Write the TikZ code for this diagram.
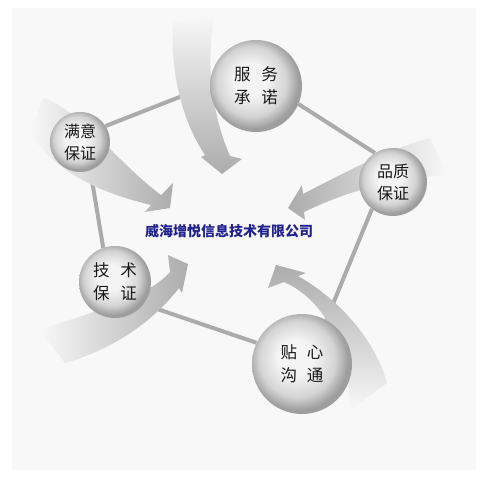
\documentclass[tikz,border=0pt]{standalone}
\usepackage{fontspec}
\newfontfamily\cjk{Noto Sans CJK SC}
\usetikzlibrary{calc}
\definecolor{NameBlue}{HTML}{22228E}
\definecolor{LinkGray}{HTML}{ABABAB}
\definecolor{BallIn}{HTML}{F4F4F4}
\definecolor{BallMid}{HTML}{D4D4D4}
\definecolor{BallOut}{HTML}{9E9E9E}
\definecolor{PaperGray}{HTML}{F8F8F8}
\pgfdeclarelayer{bg}
\pgfdeclarelayer{mid}
\pgfsetlayers{bg,mid,main}
\pgfdeclareradialshading{sphere}{\pgfpoint{-4bp}{4bp}}{color(0bp)=(BallIn); color(9bp)=(BallIn); color(19bp)=(BallMid); color(25bp)=(BallOut); color(50bp)=(BallOut)}

\begin{document}
\begin{tikzpicture}[
        x=1pt, y=-1pt,
        ball/.style={circle, shading=sphere, inner sep=0pt, align=center,
                     text=black!90, font=\cjk\fontsize{16.5}{23}\selectfont},
        small/.style={font=\cjk\fontsize{16}{22}\selectfont},
        link/.style={LinkGray, line width=4pt},
        band/.style={draw=none},
      ]
        \useasboundingbox (0,0) rectangle (482,479);
        \node[ball, minimum size=92pt]         (fuwu)   at (256,86)  {服\hspace{0.65em}务\\承\hspace{0.65em}诺};
        \node[ball, small, minimum size=60pt]  (manyi)  at (80,142)  {满意\\保证};
        \node[ball, small, minimum size=68pt]  (pinzhi) at (393,182) {品质\\保证};
        \node[ball, minimum size=72pt]         (jishu)  at (115,282) {技\hspace{0.65em}术\\保\hspace{0.65em}证};
        \node[ball, minimum size=100pt]        (tiexin) at (302,364) {贴\hspace{0.6em}心\\沟\hspace{0.6em}通};
        \node[font=\cjk\bfseries\fontsize{14}{14}\selectfont, text=NameBlue] (company) at (229,231)
             {威海增悦信息技术有限公司};
        \begin{pgfonlayer}{bg}
          \fill[PaperGray] (12,8) rectangle (476,470);
          \draw[link] (manyi.32)   -- (fuwu.179);
          \draw[link] (fuwu.-23)   -- (pinzhi.122);
          \draw[link] (pinzhi.232) -- (tiexin.61);
          \draw[link] (jishu.-38)  -- (tiexin.155);
          \draw[link] (manyi.-70)  -- (jishu.109);
        \end{pgfonlayer}
        \begin{pgfonlayer}{mid}
          % swoosh arrows into the centre
          \shade[band, top color=gray!6, bottom color=gray!65]
            (173,22) .. controls (170,80) and (185,125) .. (205,155) -- (201,157) -- (222,174)
            -- (242,159) -- (230,156) .. controls (212,115) and (205,60) .. (215,15) -- cycle;
          \shade[band, left color=gray!6, right color=gray!65]
            (30,133) .. controls (60,178) and (110,195) .. (151,205) -- (145,212) -- (170,208)
            -- (173,183) -- (161,195) .. controls (120,165) and (80,110) .. (43,98) -- cycle;
          \shade[band, left color=gray!65, right color=gray!6]
            (304,212) .. controls (340,195) and (380,180) .. (448,175) -- (430,138)
            .. controls (390,148) and (340,175) .. (303,194) -- (302,185) -- (288,208) -- (305,220) -- cycle;
          \shade[band, left color=gray!6, right color=gray!65]
            (40,330) .. controls (90,312) and (145,300) .. (170,272) -- (168,255) -- (188,264)
            -- (182,293) -- (179,288) .. controls (150,325) and (110,350) .. (65,363) -- cycle;
          \shade[band, top color=gray!65, bottom color=gray!6]
            (298,276) .. controls (340,300) and (375,340) .. (387,383) -- (350,410)
            .. controls (350,350) and (325,300) .. (284,282) -- (268,288) -- (276,265) -- (306,273) -- cycle;
        \end{pgfonlayer}
      \end{tikzpicture}
\end{document}
